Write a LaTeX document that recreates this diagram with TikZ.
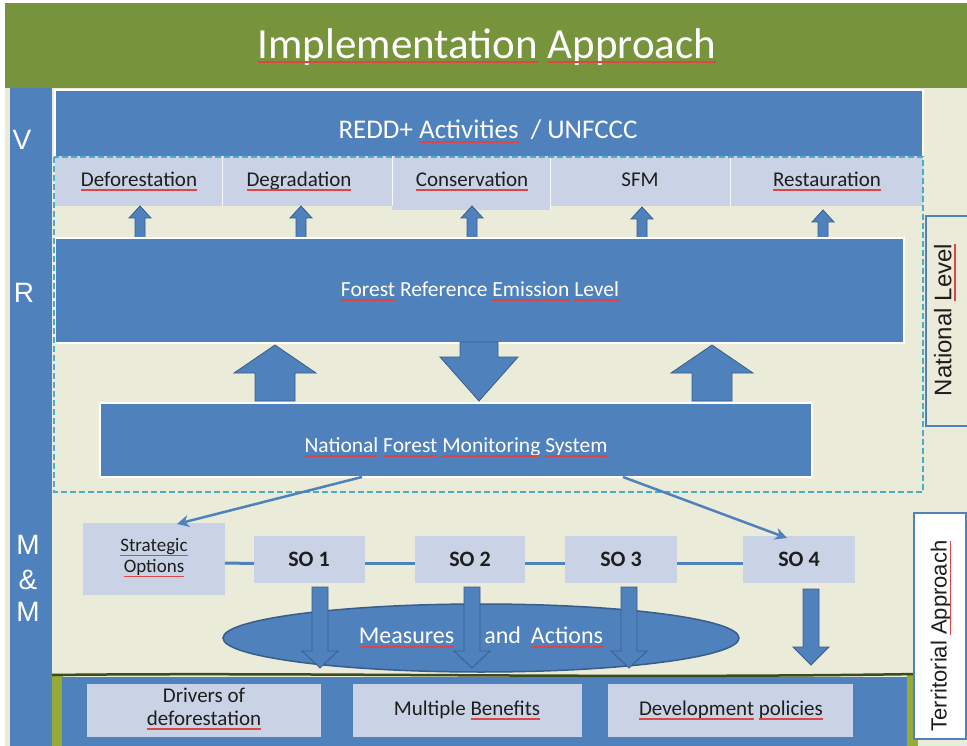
\documentclass[tikz,border=0pt]{standalone}
\usepackage{fontspec}
\setmainfont{Carlito}
\newfontfamily\arialf{Liberation Sans}
\usetikzlibrary{arrows.meta,shapes.geometric}
\definecolor{sqred}{RGB}{220,70,70}
\definecolor{blueM}{RGB}{79,129,189}
\definecolor{blueD}{RGB}{56,93,138}
\definecolor{lightB}{RGB}{201,211,229}
\definecolor{beige}{RGB}{235,235,218}
\definecolor{greenT}{RGB}{119,147,60}
\definecolor{tealD}{RGB}{75,172,198}
\definecolor{txtD}{RGB}{30,30,30}
\definecolor{olive}{RGB}{60,75,25}
\definecolor{grass}{RGB}{150,170,55}
\newsavebox\spbox
\newcommand\spchk[1]{\sbox\spbox{#1}\usebox\spbox\llap{\textcolor{sqred}{\rule[-4.5pt]{\wd\spbox}{1.6pt}}}}
\newcommand\fs[1]{\fontsize{#1}{#1}\selectfont}
\tikzset{
  bluebox/.style={fill=blueM, inner sep=0pt, outer sep=0pt},
  wbox/.style={fill=blueM, draw=white, line width=1.5pt, inner sep=0pt, outer sep=0pt},
  lbox/.style={fill=lightB, inner sep=0pt, outer sep=0pt, text=txtD, align=center},
  wtext/.style={text=white, inner sep=0pt},
  dtext/.style={text=txtD, inner sep=0pt},
  blkarr/.style={fill=blueM, draw=blueD, line width=0.8pt, line join=miter},
  conn/.style={draw=blueM, line width=3pt},
  pointer/.style={draw=blueM, line width=2.5pt, -{Stealth[length=12pt,width=12pt]}},
}
\begin{document}
\begin{tikzpicture}[x=1pt,y=-1pt]
\useasboundingbox (0,0) rectangle (967,746);
\fill[white] (0,0) rectangle (967,746);
% title banner
\node[fill=greenT, minimum width=962pt, minimum height=85pt, inner sep=0pt, anchor=north west] (banner) at (5,3) {};
\node[wtext] (title) at (487,47) {\fs{43}\spchk{Implementation} \spchk{Approach}};
% background
\fill[beige] (5,88) rectangle (967,746);
% left column
\node[bluebox, minimum width=42pt, minimum height=660pt, anchor=north west] (col) at (10,88) {};
\node[wtext] (lv) at (22,140) {\arialf\fs{28}V};
\node[wtext] (lr) at (24,293) {\arialf\fs{28}R};
\node[wtext] (lm1) at (28,545) {\arialf\fs{28}M};
\node[wtext] (lamp) at (28,580) {\arialf\fs{28}\&};
\node[wtext] (lm2) at (28,612) {\arialf\fs{28}M};
% REDD header
\node[wbox, minimum width=868pt, minimum height=67pt, anchor=north west] (redd) at (55,90) {};
\node[wtext] (reddt) at (488,131) {\fs{27}REDD+ \spchk{Activities}\ \ / UNFCCC};
% activity row
\node[lbox, minimum width=167pt, minimum height=50pt, anchor=north west] (defo) at (55,156) {};
\node[lbox, minimum width=170pt, minimum height=50pt, anchor=north west] (degr) at (222,156) {};
\node[lbox, minimum width=158pt, minimum height=54pt, anchor=north west] (cons) at (392,156) {};
\node[lbox, minimum width=180pt, minimum height=50pt, anchor=north west] (sfm) at (550,156) {};
\node[lbox, minimum width=193pt, minimum height=50pt, anchor=north west] (rest) at (730,156) {};
\draw[white!85!lightB, line width=0.8pt] (defo.north east) -- (defo.south east) (degr.north east) -- (degr.south east) (cons.north east) -- (cons.south east) (sfm.north east) -- (sfm.south east);
\node[dtext] at (139,181) {\fs{21}\spchk{Deforestation}};
\node[dtext] at (299,181) {\fs{21}\spchk{Degradation}};
\node[dtext] at (472,181) {\fs{21}\spchk{Conservation}};
\node[dtext] at (640,180) {\fs{21}SFM};
\node[dtext] at (827,181) {\fs{21}\spchk{Restauration}};
% small up arrows
\foreach \cx/\tp in {140/206, 301/206, 472/206, 642/207, 823/210}{
  \draw[blkarr] (\cx,\tp) -- (\cx+11,\tp+12) -- (\cx+5,\tp+12) -- (\cx+5,238) -- (\cx-5,238) -- (\cx-5,\tp+12) -- (\cx-11,\tp+12) -- cycle;
}
% FREL
\node[wbox, minimum width=849pt, minimum height=105pt, anchor=north west] (frel) at (55,238) {};
\node[wtext] (frelt) at (480,291) {\fs{21.5}\spchk{Forest} Reference \spchk{Emission} \spchk{Level}};
% big arrows
\draw[blkarr] (275,345) -- (316,373) -- (295,373) -- (295,401) -- (255,401) -- (255,373) -- (234,373) -- cycle;
\draw[blkarr] (712,345) -- (753,373) -- (732,373) -- (732,401) -- (692,401) -- (692,373) -- (671,373) -- cycle;
\draw[blkarr] (479,401) -- (518,357) -- (498,357) -- (498,342) -- (460,342) -- (460,357) -- (440,357) -- cycle;
% NFMS
\node[wbox, minimum width=712pt, minimum height=74pt, anchor=north west] (nfms) at (100,403) {};
\node[wtext] (nfmst) at (456,447) {\fs{21.5}\spchk{National} \spchk{Forest} \spchk{Monitoring} \spchk{System}};
% dashed frame
\draw[tealD, line width=1.6pt, dash pattern=on 6pt off 3pt] (54,157) rectangle (923,492);
% strategic options and SO boxes
\node[lbox, minimum width=142pt, minimum height=72pt, anchor=north west] (strat) at (83,523) {};
\node[dtext, align=center, font=\fontsize{19}{21}\selectfont] at (154,558) {\spchk{Strategic}\\\spchk{Options}};
\node[lbox, minimum width=111pt, minimum height=47pt, anchor=north west] (so1) at (254,536) {};
\node[lbox, minimum width=110pt, minimum height=47pt, anchor=north west] (so2) at (415,536) {};
\node[lbox, minimum width=112pt, minimum height=47pt, anchor=north west] (so3) at (565,536) {};
\node[lbox, minimum width=112pt, minimum height=47pt, anchor=north west] (so4) at (743,536) {};
\node[dtext] at (309,559) {\fs{22}\bfseries SO 1};
\node[dtext] at (470,559) {\fs{22}\bfseries SO 2};
\node[dtext] at (621,559) {\fs{22}\bfseries SO 3};
\node[dtext] at (799,559) {\fs{22}\bfseries SO 4};
\draw[conn] ([yshift=-4pt]strat.east) -- ([yshift=-4pt]so1.west);
\draw[conn] ([yshift=-4pt]so1.east) -- ([yshift=-4pt]so2.west);
\draw[conn] ([yshift=-4pt]so2.east) -- ([yshift=-4pt]so3.west);
\draw[conn] ([yshift=-4pt]so3.east) -- ([yshift=-4pt]so4.west);
% pointers from NFMS
\coordinate (nl) at ([xshift=-94pt]nfms.south);
\coordinate (nr) at ([xshift=167pt]nfms.south);
\draw[pointer] (nl) -- ([xshift=23pt,yshift=-1pt]strat.north);
\draw[pointer] (nr) -- ([xshift=-12pt,yshift=-2pt]so4.north);
% ground
\fill[grass] (52,674) rectangle (63,748);
\fill[grass] (907,674) rectangle (918,748);
\node[bluebox, minimum width=845pt, minimum height=72pt, anchor=north west] (band) at (62,677) {};
\draw[olive, line width=2.5pt] (52,675) .. controls (300,672) and (600,679) .. (918,674);
% ellipse
\node[ellipse, fill=blueM, draw=blueD, line width=1.5pt, minimum width=516pt, minimum height=68pt, inner sep=0pt] (meas) at (481,638) {};
\node[wtext] (meast) at (481,637) {\fs{24}\spchk{Measures}\hspace{30pt}and\hspace{10pt}\spchk{Actions}};
% SO down arrows
\foreach \cx/\tp/\hb/\tip in {320/587/651/668, 472/587/651/668, 629/587/651/668, 811/589/647/665}{
  \draw[blkarr] (\cx,\tip) -- (\cx+18,\hb) -- (\cx+8,\hb) -- (\cx+8,\tp) -- (\cx-8,\tp) -- (\cx-8,\hb) -- (\cx-18,\hb) -- cycle;
}
% bottom boxes
\node[lbox, minimum width=234pt, minimum height=53pt, anchor=north west] (drv) at (87,684) {};
\node[lbox, minimum width=229pt, minimum height=53pt, anchor=north west] (mb) at (353,684) {};
\node[lbox, minimum width=245pt, minimum height=53pt, anchor=north west] (dp) at (608,684) {};
\node[dtext, align=center, font=\fontsize{21}{23}\selectfont] at (204,709) {Drivers of\\\spchk{deforestation}};
\node[dtext] at (467,710) {\fs{21}Multiple \spchk{Benefits}};
\node[dtext] at (731,710) {\fs{21}\spchk{Development} \spchk{policies}};
% side labels
\node[draw=blueM, line width=2pt, fill=beige, minimum width=50pt, minimum height=210pt, anchor=north west, inner sep=0pt] (natl) at (925,215) {};
\node[dtext, rotate=90] at (945,320) {\arialf\fs{24}National \spchk{Level}};
\node[draw=blueM, line width=2pt, fill=white, minimum width=52pt, minimum height=226pt, anchor=north west, inner sep=0pt] (terr) at (913,512) {};
\node[dtext, rotate=90] at (941,636) {\arialf\fs{22}Territorial \spchk{Approach}};
\end{tikzpicture}
\end{document}
